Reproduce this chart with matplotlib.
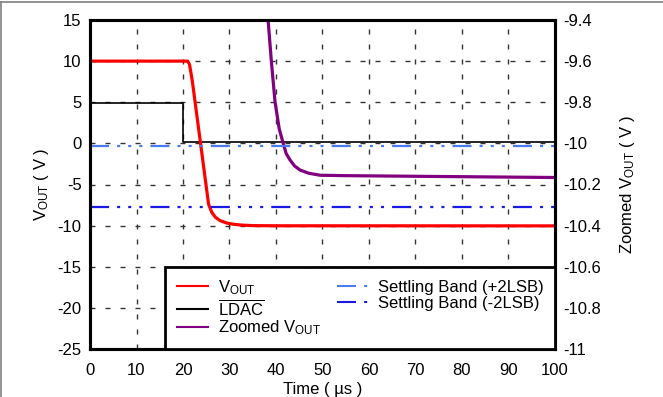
import matplotlib
matplotlib.use('Agg')
import matplotlib.pyplot as plt
from matplotlib.lines import Line2D

plt.rcParams['font.family'] = 'Liberation Sans'
plt.rcParams['mathtext.fontset'] = 'custom'
plt.rcParams['mathtext.rm'] = 'Liberation Sans'
plt.rcParams['mathtext.it'] = 'Liberation Sans'
plt.rcParams['lines.scale_dashes'] = False
plt.rcParams['axes.unicode_minus'] = False

# Vout (left axis, V)
vout_t = [0, 21.0, 21.4, 22.0, 25.5, 26.2, 27.0, 28.0, 29.5, 31.0, 33.0, 35.0, 40.0, 100]
vout_v = [10, 10, 9.6, 7.6, -7.4, -8.4, -9.0, -9.4, -9.7, -9.85, -9.95, -10.0, -10.02, -10.03]

# LDAC (left axis, V)
ldac_t = [0, 19.9, 19.9, 100]
ldac_v = [4.95, 4.95, 0.15, 0.15]

# Zoomed Vout (right axis, V)
zoom_t = [38.3, 39.0, 39.8, 40.7, 41.5, 42.2, 43.0, 44.0, 45.2, 47.0, 49.5, 55, 70, 85, 100]
zoom_v = [-9.4, -9.6, -9.80, -9.93, -9.996, -10.05, -10.08, -10.11, -10.13, -10.145, -10.155,
          -10.157, -10.16, -10.163, -10.166]

# Settling bands (right axis, V)
band_hi = -10.015
band_lo = -10.31

x_ticks = list(range(0, 101, 10))
left_ticks = list(range(-25, 16, 5))
right_ticks = [-11, -10.8, -10.6, -10.4, -10.2, -10, -9.8, -9.6, -9.4]
right_labels = ['-11', '-10.8', '-10.6', '-10.4', '-10.2', '-10', '-9.8', '-9.6', '-9.4']

fig = plt.figure(figsize=(6.63, 3.97), dpi=100)
ax = fig.add_axes([90 / 663, 48 / 397, 465 / 663, 329 / 397])
ax2 = ax.twinx()

# grid on the main axis
for x in x_ticks[1:-1]:
    ax.plot([x, x], [-25, 15], color='#333333', lw=1.0, dashes=(3.6, 7.2), zorder=1)
for y in left_ticks[1:-1]:
    ax.plot([0, 100], [y, y], color='#333333', lw=1.0, dashes=(3.6, 7.2), zorder=1)

ax.plot(vout_t, vout_v, color='#ff0000', lw=2.3, label=r'$\mathrm{V_{OUT}}$', zorder=3)
ax.plot(ldac_t, ldac_v, color='black', lw=1.2, label=r'$\overline{\mathrm{LDAC}}$', zorder=2)

band_dash = (13.7, 5.8, 2.2, 5.8, 2.2, 5.8, 2.2, 5.8)
ax2.plot(zoom_t, zoom_v, color='#800080', lw=2.3, label=r'Zoomed $\mathrm{V_{OUT}}$')
ax2.plot([0, 100], [band_hi, band_hi], color='#4a7cf0', lw=1.6, dashes=band_dash,
         label='Settling Band (+2LSB)')
ax2.plot([0, 100], [band_lo, band_lo], color='#1a1ae6', lw=1.6, dashes=band_dash,
         label='Settling Band (-2LSB)')

ax.set_xlim(0, 100)
ax.set_ylim(-25, 15)
ax2.set_ylim(-11, -9.4)
ax.set_xticks(x_ticks)
ax.set_yticks(left_ticks)
ax2.set_yticks(right_ticks)
ax2.set_yticklabels(right_labels)

ax.tick_params(axis='both', length=0, labelsize=12)
ax.tick_params(axis='x', pad=10)
ax.tick_params(axis='y', pad=6)
ax2.tick_params(axis='y', length=0, labelsize=12, pad=6)

for a in (ax, ax2):
    for s in a.spines.values():
        s.set_linewidth(2.2)
        s.set_color('black')

ax.set_xlabel('Time ( µs )', fontsize=12, labelpad=3)
ax.set_ylabel(r'$\mathrm{V_{OUT}}$ ( V )', fontsize=12, labelpad=5)
ax2.set_ylabel(r'Zoomed $\mathrm{V_{OUT}}$ ( V )', fontsize=12, labelpad=12)

h1, l1 = ax.get_legend_handles_labels()
h2, l2 = ax2.get_legend_handles_labels()
leg = ax2.legend(h1 + h2, l1 + l2, ncol=2, loc='lower left',
                 bbox_to_anchor=(75 / 465, 0, 390 / 465, 0.3), mode='expand',
                 borderaxespad=0, fontsize=12, frameon=True, fancybox=False,
                 edgecolor='black', framealpha=1, handlelength=1.9, handletextpad=0.55,
                 columnspacing=0.6, labelspacing=0.05, borderpad=0.7)
leg.get_frame().set_linewidth(2.0)
for line in leg.get_lines():
    line.set_linewidth(1.5)

# gray frame at the figure's top and left
fig.add_artist(Line2D([0, 1], [1 - 2 / 397, 1 - 2 / 397], color='#808080', lw=1.2))
fig.add_artist(Line2D([1 / 663, 1 / 663], [0, 1 - 2 / 397], color='#808080', lw=1.2))

fig.savefig('out.png', dpi=100)
